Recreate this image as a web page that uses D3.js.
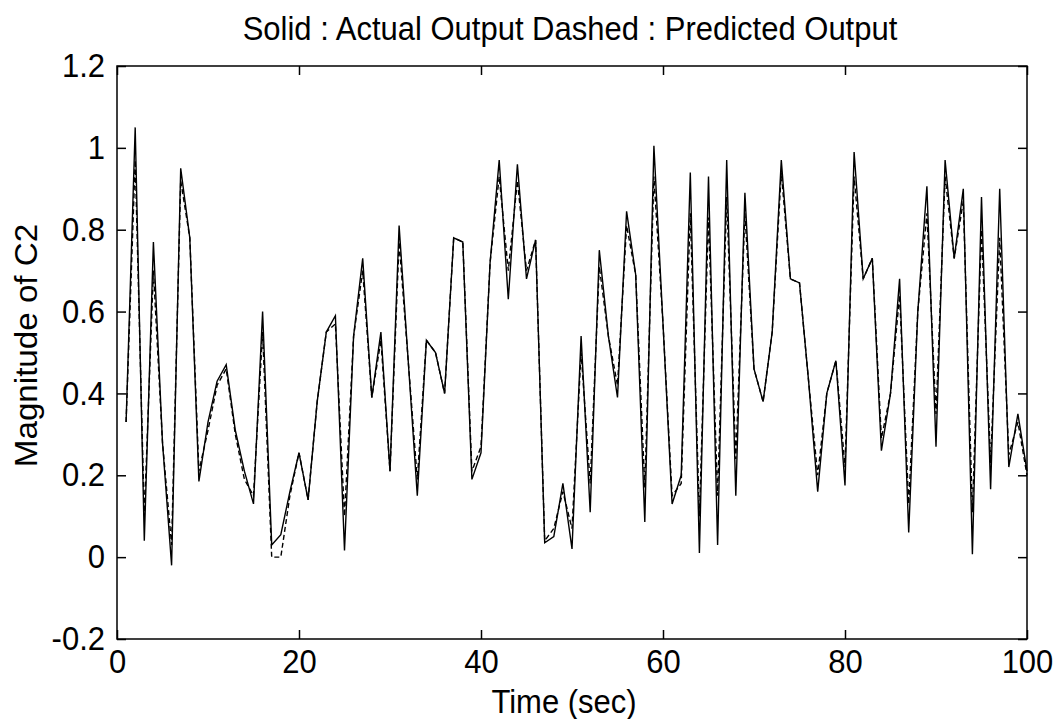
<!DOCTYPE html>
<html>
<head>
<meta charset="utf-8">
<script src="https://cdn.jsdelivr.net/npm/d3@7"></script>
<style>
  body { margin: 0; background: #fff; }
  text { font-family: "Liberation Sans", Arial, sans-serif; }
</style>
</head>
<body>
<svg id="chart" width="1056" height="719"></svg>
<script>
// time in seconds, one sample per second
const time = [1,2,3,4,5,6,7,8,9,10,11,12,13,14,15,16,17,18,19,20,
  21,22,23,24,25,26,27,28,29,30,31,32,33,34,35,36,37,38,39,40,
  41,42,43,44,45,46,47,48,49,50,51,52,53,54,55,56,57,58,59,60,
  61,62,63,64,65,66,67,68,69,70,71,72,73,74,75,76,77,78,79,80,
  81,82,83,84,85,86,87,88,89,90,91,92,93,94,95,96,97,98,99,100];

// solid line
const actual = [0.33,1.05,0.04,0.77,0.28,-0.02,0.95,0.78,0.185,0.33,
  0.43,0.47,0.31,0.21,0.13,0.60,0.03,0.055,0.16,0.255,
  0.14,0.38,0.55,0.59,0.016,0.54,0.73,0.39,0.55,0.21,
  0.81,0.48,0.15,0.53,0.50,0.40,0.78,0.77,0.19,0.255,
  0.72,0.97,0.63,0.96,0.68,0.775,0.035,0.05,0.18,0.02,
  0.54,0.11,0.75,0.54,0.39,0.845,0.69,0.086,1.005,0.57,
  0.13,0.20,0.94,0.01,0.93,0.03,0.97,0.15,0.89,0.46,
  0.38,0.55,0.97,0.68,0.67,0.43,0.16,0.40,0.48,0.175,
  0.99,0.68,0.73,0.26,0.40,0.68,0.06,0.60,0.906,0.27,
  0.97,0.73,0.90,0.007,0.88,0.166,0.90,0.22,0.35,0.21];

// dashed line
const predicted = [0.33,0.97,0.10,0.70,0.28,0.03,0.92,0.78,0.21,0.31,
  0.42,0.46,0.30,0.19,0.15,0.55,0.0,0.0,0.15,0.255,
  0.14,0.38,0.55,0.57,0.10,0.54,0.70,0.39,0.53,0.21,
  0.77,0.48,0.19,0.53,0.50,0.40,0.78,0.77,0.21,0.27,
  0.72,0.93,0.70,0.92,0.70,0.775,0.04,0.07,0.16,0.07,
  0.50,0.18,0.71,0.54,0.42,0.81,0.69,0.17,0.93,0.57,
  0.15,0.18,0.84,0.10,0.83,0.15,0.88,0.24,0.84,0.46,
  0.38,0.55,0.94,0.68,0.67,0.43,0.20,0.40,0.48,0.22,
  0.93,0.68,0.73,0.29,0.40,0.64,0.13,0.60,0.84,0.35,
  0.93,0.73,0.87,0.11,0.80,0.23,0.78,0.25,0.33,0.20];

const xTicks = [0,20,40,60,80,100];
const yTicks = [-0.2,0,0.2,0.4,0.6,0.8,1,1.2];

const titleText = "Solid : Actual Output Dashed : Predicted Output";
const xLabel = "Time (sec)";
const yLabel = "Magnitude of C2";

const svg = d3.select("#chart");
const margin = { top: 66, right: 29, bottom: 80, left: 117 };
const width = 1056 - margin.left - margin.right;
const height = 719 - margin.top - margin.bottom;

svg.append("rect").attr("width", 1056).attr("height", 719).attr("fill", "#fff");

const x = d3.scaleLinear().domain([0, 100]).range([0, width]);
const y = d3.scaleLinear().domain([-0.2, 1.2]).range([height, 0]);

const g = svg.append("g").attr("transform", `translate(${margin.left},${margin.top})`);

const fmt = d => String(+d.toFixed(1));
const fs = 31;
const stretch = 1.07; // text in the picture is a bit taller than wide

// bottom axis with inward ticks
const xb = g.append("g").attr("transform", `translate(0,${height})`)
  .call(d3.axisBottom(x).tickValues(xTicks).tickSizeInner(-9).tickSizeOuter(0).tickPadding(10).tickFormat(fmt));
// top axis, ticks only
const xt = g.append("g")
  .call(d3.axisTop(x).tickValues(xTicks).tickSizeInner(-9).tickSizeOuter(0).tickFormat(""));
// left axis
const yl = g.append("g")
  .call(d3.axisLeft(y).tickValues(yTicks).tickSizeInner(-9).tickSizeOuter(0).tickPadding(12).tickFormat(fmt));
// right axis, ticks only
const yr = g.append("g").attr("transform", `translate(${width},0)`)
  .call(d3.axisRight(y).tickValues(yTicks).tickSizeInner(-9).tickSizeOuter(0).tickFormat(""));

[xb, xt, yl, yr].forEach(a => {
  a.select(".domain").remove();
  a.selectAll(".tick line").attr("stroke", "#000").attr("stroke-width", 1.5);
  a.selectAll(".tick text").attr("fill", "#000").attr("font-size", fs)
    .attr("font-family", "'Liberation Sans', Arial, sans-serif")
    .attr("transform", `scale(1,${stretch})`);
});

// axes box
g.append("rect")
  .attr("width", width).attr("height", height)
  .attr("fill", "none").attr("stroke", "#000").attr("stroke-width", 1.5);

const line = d3.line()
  .x((d, i) => x(time[i]))
  .y(d => y(d));

g.append("path")
  .datum(predicted)
  .attr("fill", "none")
  .attr("stroke", "#000")
  .attr("stroke-width", 1.4)
  .attr("stroke-dasharray", "5,3")
  .attr("d", line);

g.append("path")
  .datum(actual)
  .attr("fill", "none")
  .attr("stroke", "#000")
  .attr("stroke-width", 1.4)
  .attr("d", line);

// title and labels
svg.append("text")
  .attr("transform", `translate(${margin.left + width / 2 - 2},40) scale(1,${stretch})`)
  .attr("text-anchor", "middle").attr("font-size", fs).attr("fill", "#000")
  .text(titleText);

svg.append("text")
  .attr("transform", `translate(${margin.left + width / 2 - 8},713) scale(1,${stretch})`)
  .attr("text-anchor", "middle").attr("font-size", fs).attr("fill", "#000")
  .text(xLabel);

svg.append("text")
  .attr("transform", `translate(37,${margin.top + height / 2 - 7}) rotate(-90) scale(${stretch},1)`)
  .attr("text-anchor", "middle").attr("font-size", fs).attr("fill", "#000")
  .text(yLabel);
</script>
</body>
</html>
